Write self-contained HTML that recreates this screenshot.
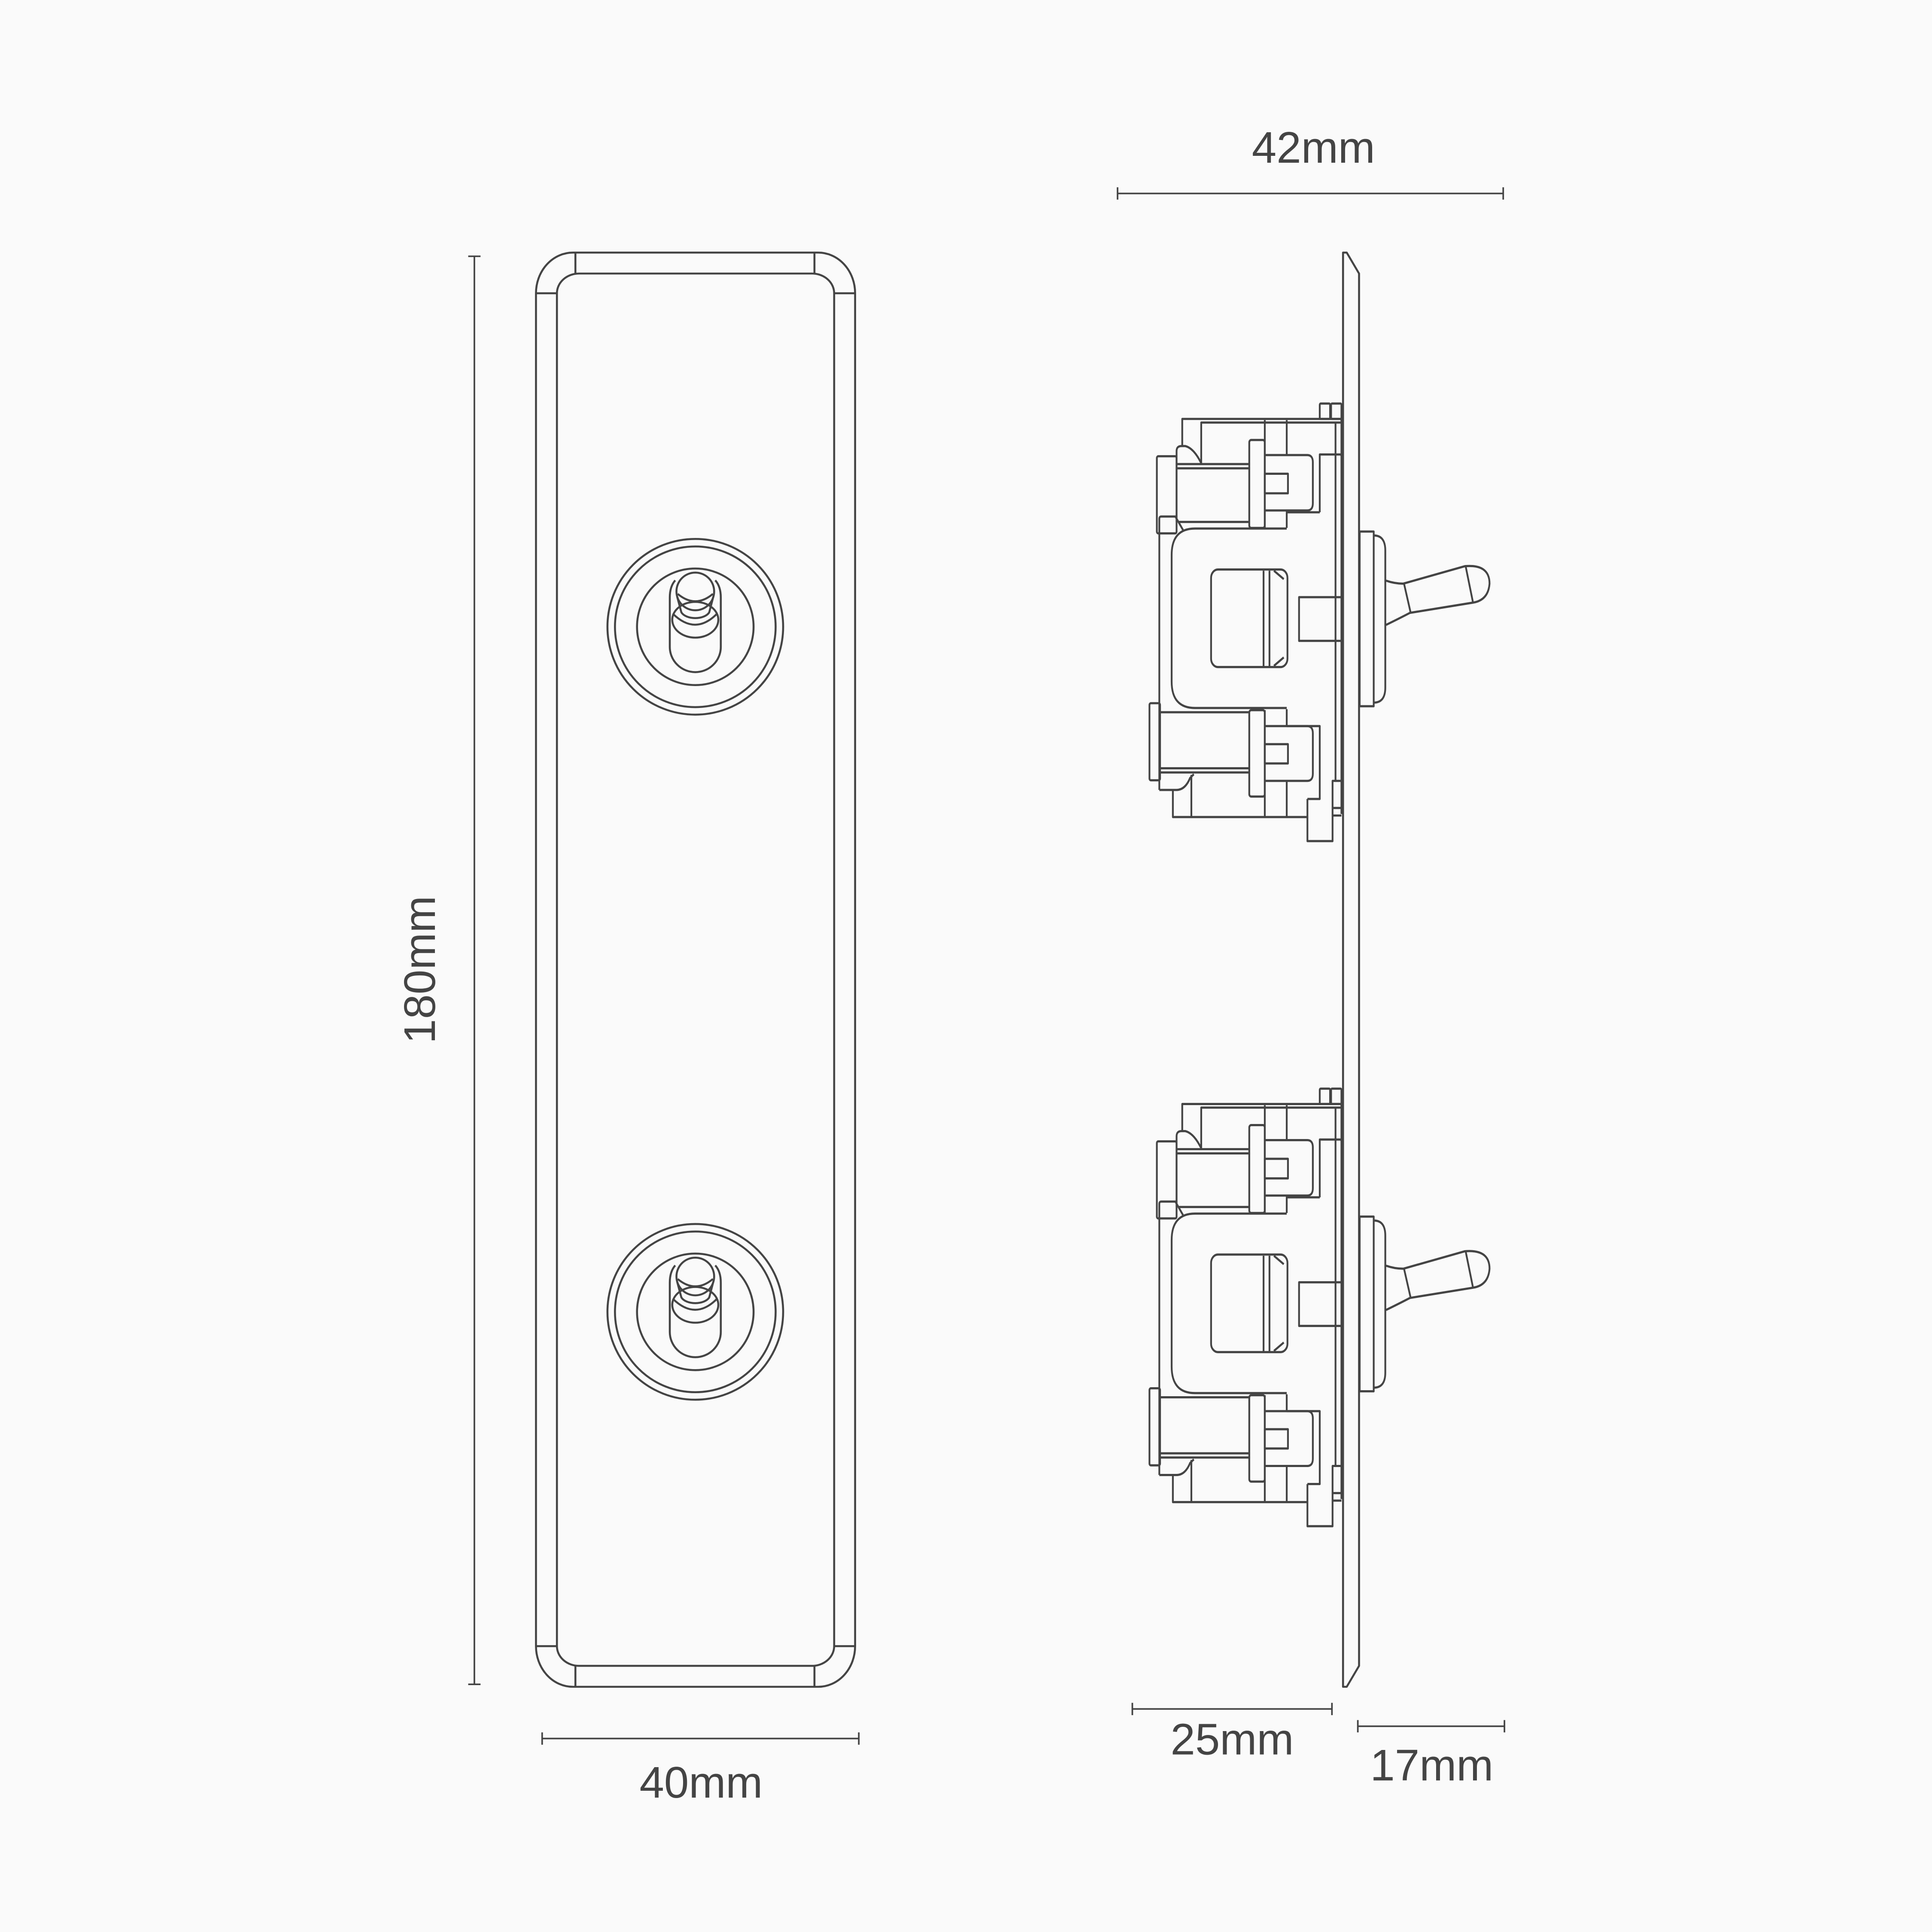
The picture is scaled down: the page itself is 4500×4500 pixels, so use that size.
<!DOCTYPE html>
<html><head><meta charset="utf-8"><style>
html,body{margin:0;padding:0;background:#fafafa}
svg{display:block}
text{font-family:"Liberation Sans",sans-serif;fill:#444;font-size:36px}
</style></head><body>
<svg width="4500" height="4500" viewBox="0 0 1568 1568" xmlns="http://www.w3.org/2000/svg">
<rect width="1568" height="1568" fill="#fafafa"/>
<g fill="none" stroke="#444" stroke-width="1.6" stroke-linejoin="round">
<rect x="435" y="205" width="259" height="1164" rx="30" ry="33"/>
<rect x="452" y="222" width="225" height="1130" rx="18" ry="16"/>
<line x1="467" y1="205" x2="467" y2="222"/><line x1="661" y1="205" x2="661" y2="222"/>
<line x1="467" y1="1369" x2="467" y2="1352"/><line x1="661" y1="1369" x2="661" y2="1352"/>
<line x1="435" y1="238" x2="452" y2="238"/><line x1="677" y1="238" x2="694" y2="238"/>
<line x1="435" y1="1336" x2="452" y2="1336"/><line x1="677" y1="1336" x2="694" y2="1336"/>
<g id="knob">
<circle cx="564.3" cy="508.7" r="71.3"/>
<circle cx="564.3" cy="508.7" r="65.2"/>
<circle cx="564.3" cy="508.7" r="47.3"/>
<path d="M543.6,485 Q543.6,476 548,471 M585,485 Q585,476 580.5,471 M543.6,485 L543.6,525 A20.7,20.5 0 0 0 585,525 L585,485"/>
<ellipse cx="564.3" cy="503" rx="18.7" ry="14.5"/>
<path d="M546,498 Q564.3,516 582,498"/>
<path d="M549.5,484 L553,497 A12,7 0 0 0 575.6,497 L579,484"/>
<path d="M550,482 Q564.3,494 578.6,482"/>
<ellipse cx="564.3" cy="480" rx="15.3" ry="15.3"/>
</g>
<use href="#knob" transform="translate(0,556)"/>
<path d="M1090,1369 L1090,205 L1093,205 L1103,222 L1103,1352 L1093,1369 Z"/>
<g id="mech" transform="translate(905.9,313.6) scale(0.2,0.2444)" stroke-width="7.3">
<rect x="826" y="57" width="42" height="51" rx="4"/>
<rect x="872" y="57" width="42" height="51" rx="4"/>
<path d="M268,200 L268,108 L908,108 Q914,108 914,114 L914,1420"/>
<path d="M345,255 L345,120 L914,120"/>
<line x1="890" y1="120" x2="890" y2="1310"/>
<path d="M603,112 L603,470 M692,112 L692,228 M692,415 L692,470"/>
<rect x="540" y="178" width="63" height="292" rx="8"/>
<path d="M603,228 L775,228 Q798,228 798,252 L798,388 Q798,412 775,412 L603,412"/>
<rect x="603" y="290" width="94" height="65"/>
<path d="M826,418 L826,226 L908,226 Q914,226 914,232 M692,418 L826,418"/>
<rect x="165" y="232" width="80" height="256" rx="6"/>
<path d="M245,450 L245,215 Q245,198 265,198 L280,198 Q315,205 345,255"/>
<path d="M245,258 L540,258 M245,272 L540,272 M255,450 L540,450"/>
<path d="M175,1340 L175,440 Q175,432 183,432 L240,432 L272,478"/>
<path d="M692,472 L320,472 Q225,472 225,560 L225,980 Q225,1068 320,1068 L692,1068"/>
<rect x="385" y="608" width="310" height="324" rx="28"/>
<path d="M598,612 L598,930 M622,612 L622,930 M640,612 L680,640 M640,928 L680,900"/>
<path d="M916,700 L742,700 L742,845 L916,845"/>
<rect x="540" y="1075" width="63" height="287" rx="8"/>
<path d="M603,1128 L775,1128 Q798,1128 798,1152 L798,1286 Q798,1310 775,1310 L603,1310"/>
<rect x="603" y="1188" width="94" height="64"/>
<path d="M692,1072 L692,1128 M692,1310 L692,1430 M603,1075 L603,1430"/>
<path d="M692,1128 L826,1128 L826,1370 L776,1370"/>
<path d="M175,1082 L540,1082 M175,1268 L540,1268 M175,1282 L540,1282"/>
<rect x="135" y="1052" width="43" height="256" rx="6"/>
<path d="M175,1340 L245,1340 Q280,1340 300,1300 L315,1288"/>
<path d="M305,1290 L305,1430 M230,1340 L230,1430 L776,1430"/>
<path d="M776,1370 L776,1510 L878,1510 L878,1310 L914,1310 M878,1400 L914,1400 M878,1425 L914,1425"/>
<rect x="988" y="482" width="57" height="580"/>
<path d="M1045,495 Q1092,495 1092,545 L1092,1000 Q1092,1050 1045,1050"/>
<path d="M1095,645 Q1130,655 1165,655 L1415,597 Q1515,590 1515,655 Q1510,710 1448,718 L1192,752 Q1150,770 1095,792"/>
<path d="M1168,655 L1195,752 M1418,597 L1448,718"/>
</g>
<use href="#mech" transform="translate(0,556)"/>
<g stroke-width="1.3">
<line x1="907" y1="157" x2="1220" y2="157"/><line x1="907" y1="152" x2="907" y2="162"/><line x1="1220" y1="152" x2="1220" y2="162"/>
<line x1="385" y1="208" x2="385" y2="1367"/><line x1="380" y1="208" x2="390" y2="208"/><line x1="380" y1="1367" x2="390" y2="1367"/>
<line x1="440" y1="1411" x2="697" y2="1411"/><line x1="440" y1="1406" x2="440" y2="1416"/><line x1="697" y1="1406" x2="697" y2="1416"/>
<line x1="919" y1="1387" x2="1081" y2="1387"/><line x1="919" y1="1382" x2="919" y2="1392"/><line x1="1081" y1="1382" x2="1081" y2="1392"/>
<line x1="1102" y1="1401" x2="1221" y2="1401"/><line x1="1102" y1="1396" x2="1102" y2="1406"/><line x1="1221" y1="1396" x2="1221" y2="1406"/>
</g>
</g>
<text x="1066" y="132" text-anchor="middle">42mm</text>
<text x="569" y="1459" text-anchor="middle">40mm</text>
<text x="1000" y="1424" text-anchor="middle">25mm</text>
<text x="1162" y="1445" text-anchor="middle">17mm</text>
<text x="353" y="787" text-anchor="middle" transform="rotate(-90 353 787)">180mm</text>
</svg>
</body></html>
